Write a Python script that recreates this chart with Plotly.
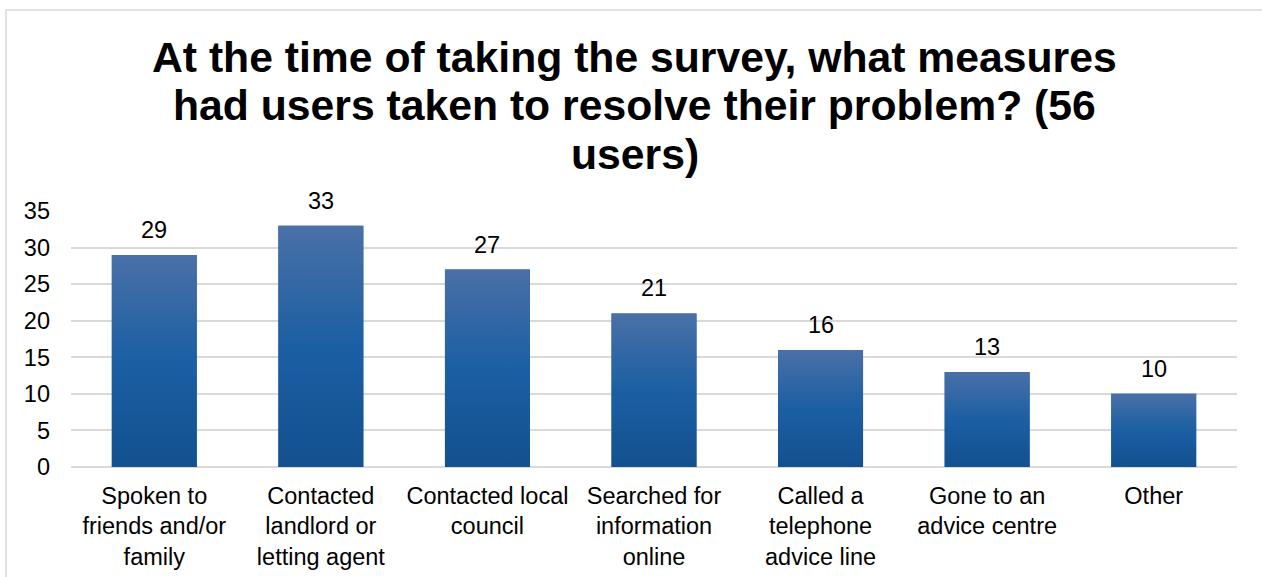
import plotly.graph_objects as go

categories = ["Spoken to<br>friends and/or<br>family", "Contacted<br>landlord or<br>letting agent",
              "Contacted local<br>council", "Searched for<br>information<br>online",
              "Called a<br>telephone<br>advice line", "Gone to an<br>advice centre", "Other"]
values = [29, 33, 27, 21, 16, 13, 10]
title_lines = ["At the time of taking the survey, what measures",
               "had users taken to resolve their problem? (56",
               "users)"]

FONT = "Liberation Sans, Arial"
idx = list(range(len(categories)))
half = 0.255

fig = go.Figure()
fig.add_trace(go.Bar(x=idx, y=values, width=2 * half, marker=dict(color="#1a5ca0", line=dict(width=0)),
                     hoverinfo="skip"))

for i, v in zip(idx, values):
    fig.add_trace(go.Scatter(
        x=[i - half, i + half, i + half, i - half, i - half],
        y=[0, 0, v, v, 0], mode="lines", line=dict(width=0), fill="toself",
        fillgradient=dict(type="vertical",
                          colorscale=[[0, "#13508f"], [0.5, "#1b5fa3"], [1, "#4a70a7"]]),
        hoverinfo="skip", showlegend=False))

annotations = []
for i, v in zip(idx, values):
    annotations.append(dict(x=i, y=v, xref="x", yref="y", text=str(v), showarrow=False,
                            yanchor="bottom", yshift=10,
                            font=dict(size=23.5, family=FONT, color="#000000")))
title_y = [1.6016, 1.414, 1.2227]
for line, ty in zip(title_lines, title_y):
    annotations.append(dict(x=0.4837, y=ty, xref="paper", yref="paper", text=line, showarrow=False,
                            xanchor="center", yanchor="middle",
                            font=dict(size=42.7, family=FONT, color="#000000", weight="bold")))

fig.update_layout(
    width=1262, height=577,
    paper_bgcolor="white", plot_bgcolor="white",
    margin=dict(l=71, r=25, t=211, b=110),
    showlegend=False,
    font=dict(family=FONT, size=23.5, color="#000000"),
    annotations=annotations,
    xaxis=dict(tickmode="array", tickvals=idx, ticktext=categories, range=[-0.5, len(categories) - 0.5],
               showgrid=False, zeroline=False, showline=False, ticks="", automargin=False,
               tickfont=dict(size=23.5, color="#000000"), tickangle=0, ticklabelstandoff=12),
    yaxis=dict(range=[0, 35], dtick=5, showgrid=True, gridcolor="#d9d9d9", gridwidth=1.5,
               zeroline=True, zerolinecolor="#d9d9d9", zerolinewidth=1.5, showline=False,
               ticks="", automargin=False, tickfont=dict(size=23.5, color="#000000"),
               ticklabelstandoff=20),
    shapes=[dict(type="rect", xref="paper", yref="paper", x0=-0.0557, x1=1.1, y0=-0.5, y1=1.785,
                 line=dict(color="#d9d9d9", width=1.5), fillcolor="rgba(0,0,0,0)", layer="below")],
)

fig.write_html("out.html")
